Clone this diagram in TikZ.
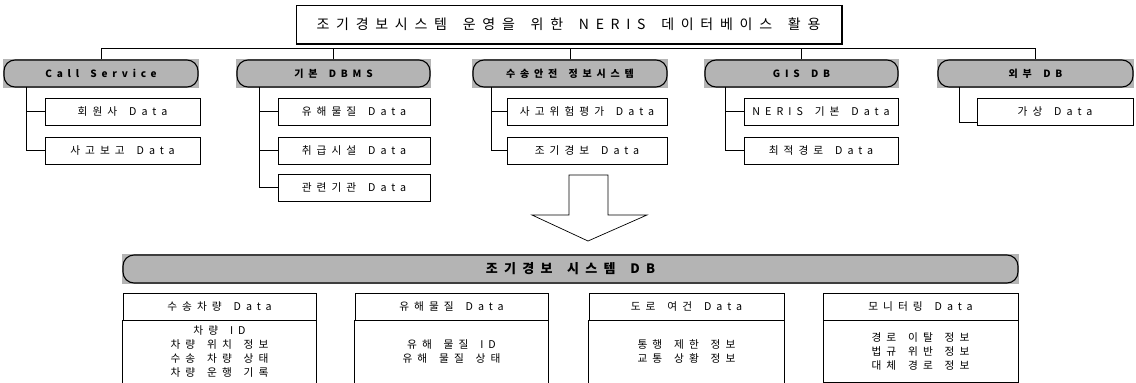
\documentclass[tikz,border=0pt]{standalone}
\usepackage{fontspec}
\setmainfont{Noto Sans CJK KR}
\newfontfamily\krsp[LetterSpace=47,WordSpace=1.6]{Noto Sans CJK KR}
\newfontfamily\krti[LetterSpace=48,WordSpace=1.6]{Noto Sans CJK KR}
\usetikzlibrary{backgrounds}
\definecolor{pillgray}{RGB}{180,180,180}
\tikzset{
 titlebox/.style={draw, line width=0.9pt, minimum width=545pt, minimum height=38pt, inner sep=0pt, font=\krti\fontsize{14}{16}\selectfont},
 pill/.style={draw, line width=1.1pt, rounded corners=11pt, fill=pillgray, minimum height=27pt, inner sep=0pt, font=\krti\bfseries\fontsize{10}{12}\selectfont},
 cbox/.style={draw, line width=0.7pt, minimum height=27pt, inner sep=0pt, font=\krsp\fontsize{10.7}{12}\selectfont},
 thead/.style={draw, line width=0.7pt, minimum height=27pt, inner sep=0pt, font=\krsp\fontsize{10.7}{12}\selectfont},
 tbody/.style={minimum height=62pt, inner sep=0pt, align=center, font=\krsp\fontsize{10.7}{14}\selectfont},
 link/.style={line width=0.7pt},
 blockarrow/.style={draw, line width=0.7pt, fill=white},
}
\begin{document}
\begin{tikzpicture}[x=1pt,y=-1pt]
\useasboundingbox (0,0) rectangle (1136,383);
% title
\node[titlebox] (title) at (568.5,24) {조기경보시스템 운영을 위한 NERIS 데이터베이스 활용};
\draw[line width=1.6pt] ([xshift=0.8pt,yshift=-0.3pt]title.north east) -- ([xshift=0.8pt,yshift=-0.8pt]title.south east) -- ([yshift=-0.8pt]title.south west);
% category pills
\node[pill, minimum width=194pt] (cs)  at (101,73.5)   {Call Service};
\node[pill, minimum width=193pt] (db)  at (333.5,73.5) {기본 DBMS};
\node[pill, minimum width=194pt] (tr)  at (570,73.5)   {수송안전 정보시스템};
\node[pill, minimum width=193pt] (gis) at (801.5,73.5) {GIS DB};
\node[pill, minimum width=195pt] (ext) at (1035.5,73.5){외부 DB};
\begin{pgfonlayer}{background}
\foreach \p in {cs,db,tr,gis,ext}{\fill[pillgray] (\p.south west) rectangle (\p.north east);}
\end{pgfonlayer}
% bus
\coordinate (bus) at (0,48);
\draw[link] (cs.north) -- (cs.north |- bus) -- (ext.north |- bus) -- (ext.north);
\draw[link] (db.north) -- (db.north |- bus);
\draw[link] (tr.north) -- (tr.north |- bus);
\draw[link] (gis.north) -- (gis.north |- bus);
% child boxes
\node[cbox, minimum width=155pt] (c1) at (122.5,111.5) {회원사 Data};
\node[cbox, minimum width=155pt] (c2) at (122.5,150.5) {사고보고 Data};
\node[cbox, minimum width=152pt] (d1) at (354,111.5) {유해물질 Data};
\node[cbox, minimum width=152pt] (d2) at (354,150.5) {취급시설 Data};
\node[cbox, minimum width=152pt] (d3) at (354,187.5) {관련기관 Data};
\node[cbox, minimum width=160pt] (r1) at (587,111.5) {사고위험평가 Data};
\node[cbox, minimum width=160pt] (r2) at (587,150.5) {조기경보 Data};
\node[cbox, minimum width=154pt] (g1) at (821,111.5) {NERIS 기본 Data};
\node[cbox, minimum width=154pt] (g2) at (821,150.5) {최적경로 Data};
\node[cbox, minimum width=156pt] (e1) at (1055,111.5) {가상 Data};
% child connectors
\coordinate (vc) at (26,87);
\coordinate (vd) at (259,87);
\coordinate (vr) at (491,87);
\coordinate (vg) at (725,87);
\coordinate (ve) at (959,87);
\draw[link] (vc) |- (c1.west);
\draw[link] (vc) |- (c2.west);
\draw[link] (vd) |- (d1.west);
\draw[link] (vd) |- (d2.west);
\draw[link] (vd) |- (d3.west);
\draw[link] (vr) |- (r1.west);
\draw[link] (vr) |- (r2.west);
\draw[link] (vg) |- (g1.west);
\draw[link] (vg) |- (g2.west);
\draw[link] (ve) |- ([yshift=-11pt]e1.west);
% block arrow
\draw[blockarrow] (569,175) -- (608,175) -- (608,215) -- (647,215) -- (588,241) -- (532,215) -- (569,215) -- cycle;
% band
\node[pill, minimum width=895pt, minimum height=28pt, font=\krti\bfseries\fontsize{13}{15}\selectfont] (band) at (570.5,269) {조기경보 시스템 DB};
\begin{pgfonlayer}{background}
\fill[pillgray] (band.south west) rectangle (band.north east);
\end{pgfonlayer}
% tables
\node[thead, minimum width=193pt] (t1h) at (219.5,306.5) {수송차량 Data};
\node[thead, minimum width=193pt] (t2h) at (451.5,306.5) {유해물질 Data};
\node[thead, minimum width=195pt] (t3h) at (686.5,306.5) {도로 여건 Data};
\node[thead, minimum width=195pt] (t4h) at (920.5,306.5) {모니터링 Data};
\node[tbody, minimum width=193pt, anchor=north] (t1b) at (t1h.south) {차량 ID\\차량 위치 정보\\수송 차량 상태\\차량 운행 기록};
\node[tbody, minimum width=193pt, anchor=north] (t2b) at (t2h.south) {유해 물질 ID\\유해 물질 상태};
\node[tbody, minimum width=195pt, anchor=north] (t3b) at (t3h.south) {통행 제한 정보\\교통 상황 정보};
\node[tbody, minimum width=195pt, anchor=north, draw, line width=0.7pt] (t4b) at (t4h.south) {경로 이탈 정보\\법규 위반 정보\\대체 경로 정보};
\foreach \t in {t1b,t2b,t3b}{
 \draw[link] (\t.north west) -- ([yshift=-4pt]\t.south west);
 \draw[link] (\t.north east) -- ([yshift=-4pt]\t.south east);
}
\end{tikzpicture}
\end{document}
